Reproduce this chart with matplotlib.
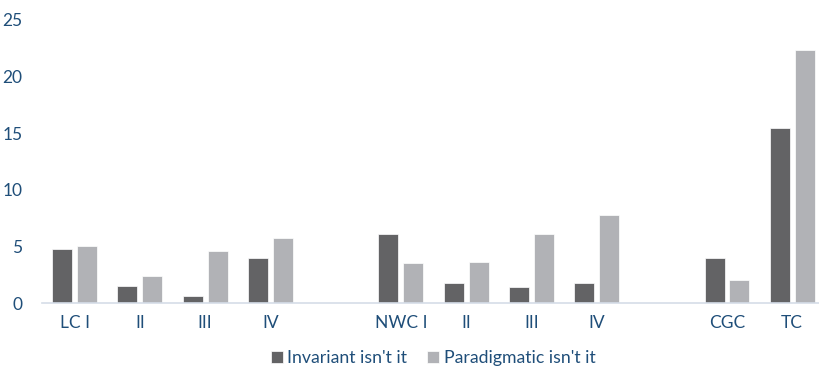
import numpy as np
import matplotlib.pyplot as plt

categories = ["LC I", "II", "III", "IV", "", "NWC I", "II", "III", "IV", "", "CGC", "TC"]
invariant = [4.8, 1.5, 0.6, 4.0, 0, 6.1, 1.8, 1.4, 1.8, 0, 4.0, 15.4]
paradigmatic = [5.0, 2.4, 4.6, 5.7, 0, 3.5, 3.6, 6.1, 7.8, 0, 2.0, 22.3]

plt.rcParams['font.family'] = ['Lato', 'DejaVu Sans']
txt_color = "#1f4e79"

fig = plt.figure(figsize=(8.19, 3.71), dpi=100)
ax = fig.add_axes([41.9/819, 68/371, 1 - 41.9/819, (302.7-19.4)/371])

x = np.arange(len(categories))
w = 20/65.27
off = 12.5/65.27
ax.bar(x - off, invariant, w, color="#636365", edgecolor="white", linewidth=0.5,
       label="Invariant isn't it")
ax.bar(x + off, paradigmatic, w, color="#b1b2b6", edgecolor="white", linewidth=0.5,
       label="Paradigmatic isn't it")

ax.set_xlim(-0.5, 11.41)
ax.set_ylim(0, 25)
ax.set_yticks([0, 5, 10, 15, 20, 25])
ax.set_xticks(x)
ax.set_xticklabels(categories)
ax.tick_params(axis='both', length=0, labelsize=12.5, colors=txt_color)
ax.tick_params(axis='y', pad=14)
ax.tick_params(axis='x', pad=9)
for s in ["top", "right", "left"]:
    ax.spines[s].set_visible(False)
ax.spines["bottom"].set_color("#d5dde8")
ax.spines["bottom"].set_linewidth(1.2)

leg = fig.legend(loc="center", bbox_to_anchor=(433/819, 1 - 358/371), ncol=2, frameon=False,
                 fontsize=12.7, handlelength=0.7, handleheight=0.7, handletextpad=0.25,
                 columnspacing=1.1)
for t in leg.get_texts():
    t.set_color(txt_color)

plt.savefig("out.png", dpi=100)
